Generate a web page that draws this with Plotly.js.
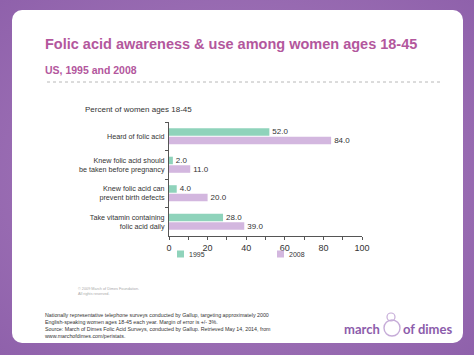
<!DOCTYPE html>
<html>
<head>
<meta charset="utf-8">
<script src="https://cdn.plot.ly/plotly-3.0.1.min.js"></script>
<style>
  html, body { margin: 0; padding: 0; }
  body { width: 474px; height: 355px; overflow: hidden; position: relative;
         background: radial-gradient(ellipse at 50% 50%, #a27ab9 0%, #9a6db3 60%, #8f61ab 100%); }
  #card { position: absolute; left: 12px; top: 10px; width: 451px; height: 333px;
          background: #ffffff; border-radius: 10px; }
  #chart { position: absolute; left: 0; top: 0; width: 474px; height: 355px; }
</style>
</head>
<body>
<div id="card"></div>
<div id="chart"></div>
<script>
// ---- data ----
const categories = [
  "Heard of folic acid",
  "Knew folic acid should<br>be taken before pregnancy",
  "Knew folic acid can<br>prevent birth defects",
  "Take vitamin containing<br>folic acid daily"
];
const seriesNames = ["1995", "2008"];
const values1995 = [52.0, 2.0, 4.0, 28.0];
const values2008 = [84.0, 11.0, 20.0, 39.0];
const xTickVals = [0, 20, 40, 60, 80, 100];
const colors = ["#8fd3bb", "#d3b7df"];

const titleText = "Folic acid awareness &amp; use among women ages 18-45";
const subtitleText = "US, 1995 and 2008";
const axisCaption = "Percent of women ages 18-45";
const notesText = "Nationally representative telephone surveys conducted by Gallup, targeting approximately 2000<br>" +
  "English-speaking women ages 18-45 each year. Margin of error is +/- 3%.<br>" +
  "Source: March of Dimes Folic Acid Surveys, conducted by Gallup. Retrieved May 14, 2014, from<br>" +
  "www.marchofdimes.com/peristats.";
const copyrightText = "© 2009 March of Dimes Foundation.<br>All rights reserved.";

// ---- layout geometry (pixels) ----
const W = 474, H = 355;
const L = 169, R = 362, T = 122, B = 236;
const px = X => (X - L) / (R - L);
const py = Y => (B - Y) / (B - T);

const FONT = "Liberation Sans, Arial, Helvetica, sans-serif";
const TITLE_COLOR = "#b3579d";
const LOGO = "#8c5cab";

const traces = [
  { type: "bar", orientation: "h", name: seriesNames[0], y: categories, x: values1995,
    marker: { color: colors[0] }, text: values1995.map(v => v.toFixed(1)),
    textposition: "outside", constraintext: "none", cliponaxis: false,
    textfont: { size: 8, color: "#333", family: FONT }, hoverinfo: "skip" },
  { type: "bar", orientation: "h", name: seriesNames[1], y: categories, x: values2008,
    marker: { color: colors[1] }, text: values2008.map(v => v.toFixed(1)),
    textposition: "outside", constraintext: "none", cliponaxis: false,
    textfont: { size: 8, color: "#333", family: FONT }, hoverinfo: "skip" }
];

const shapes = [
  { type: "line", xref: "paper", yref: "paper", x0: px(47), x1: px(440), y0: py(82), y1: py(82),
    line: { color: "#b8b8b8", width: 1, dash: "dot" } },
  { type: "rect", xref: "paper", yref: "paper", x0: px(177), x1: px(184), y0: py(250.5), y1: py(257.5),
    line: { width: 0 }, fillcolor: colors[0] },
  { type: "rect", xref: "paper", yref: "paper", x0: px(277), x1: px(284), y0: py(250.5), y1: py(257.5),
    line: { width: 0 }, fillcolor: colors[1] },
  { type: "circle", xref: "paper", yref: "paper", x0: px(384), x1: px(400), y0: py(320), y1: py(336),
    line: { color: "#c6acd8", width: 1.4 } },
  { type: "circle", xref: "paper", yref: "paper", x0: px(387), x1: px(395), y0: py(313), y1: py(321),
    line: { color: "#c6acd8", width: 1.2 } }
];

const annotations = [
  { text: "<b>" + titleText + "</b>", x: px(43), y: py(44), xref: "paper", yref: "paper",
    xanchor: "left", yanchor: "middle", showarrow: false,
    font: { size: 14.5, color: TITLE_COLOR, family: FONT } },
  { text: "<b>" + subtitleText + "</b>", x: px(43), y: py(70), xref: "paper", yref: "paper",
    xanchor: "left", yanchor: "middle", showarrow: false,
    font: { size: 10.5, color: TITLE_COLOR, family: FONT } },
  { text: axisCaption, x: px(83), y: py(109), xref: "paper", yref: "paper",
    xanchor: "left", yanchor: "middle", showarrow: false,
    font: { size: 8, color: "#333", family: FONT } },
  { text: seriesNames[0], x: px(187), y: py(254.5), xref: "paper", yref: "paper",
    xanchor: "left", yanchor: "middle", showarrow: false,
    font: { size: 7, color: "#333", family: FONT } },
  { text: seriesNames[1], x: px(287), y: py(254.5), xref: "paper", yref: "paper",
    xanchor: "left", yanchor: "middle", showarrow: false,
    font: { size: 7, color: "#333", family: FONT } },
  { text: copyrightText, x: px(76), y: py(291.5), xref: "paper", yref: "paper",
    xanchor: "left", yanchor: "middle", align: "left", showarrow: false,
    font: { size: 3.8, color: "#aaa", family: FONT } },
  { text: notesText, x: px(43), y: py(325.5), xref: "paper", yref: "paper",
    xanchor: "left", yanchor: "middle", align: "left", showarrow: false,
    font: { size: 5.3, color: "#333", family: FONT } },
  { text: "<b>march</b>", x: px(382), y: py(329), xref: "paper", yref: "paper",
    xanchor: "right", yanchor: "middle", showarrow: false,
    font: { size: 13, color: LOGO, family: "Lato, Open Sans, sans-serif" } },
  { text: "<b>of dimes</b>", x: px(401), y: py(329), xref: "paper", yref: "paper",
    xanchor: "left", yanchor: "middle", showarrow: false,
    font: { size: 13, color: LOGO, family: "Lato, Open Sans, sans-serif" } }
];

const layout = {
  width: W, height: H,
  margin: { l: L, r: W - R, t: T, b: H - B, pad: 0 },
  paper_bgcolor: "rgba(0,0,0,0)", plot_bgcolor: "rgba(0,0,0,0)",
  barmode: "group", bargap: 0.4, bargroupgap: 0.12,
  showlegend: false,
  font: { family: FONT, color: "#333" },
  xaxis: {
    range: [0, 100], tickvals: xTickVals, showgrid: false, zeroline: false,
    showline: true, linecolor: "#555", linewidth: 1,
    ticks: "outside", ticklen: 3, tickcolor: "#555",
    minor: { dtick: 10, ticks: "outside", ticklen: 3, tickcolor: "#555" },
    tickfont: { size: 9, color: "#333", family: FONT }, fixedrange: true
  },
  yaxis: {
    type: "category", autorange: "reversed", showgrid: false, zeroline: false,
    showline: true, linecolor: "#555", linewidth: 1,
    ticks: "outside", ticklen: 3, tickcolor: "#555", tickson: "boundaries",
    ticklabelstandoff: 2,
    tickfont: { size: 7.2, color: "#333", family: FONT }, fixedrange: true
  },
  shapes: shapes,
  annotations: annotations
};

Plotly.newPlot("chart", traces, layout, { staticPlot: true, displayModeBar: false });
</script>
</body>
</html>
